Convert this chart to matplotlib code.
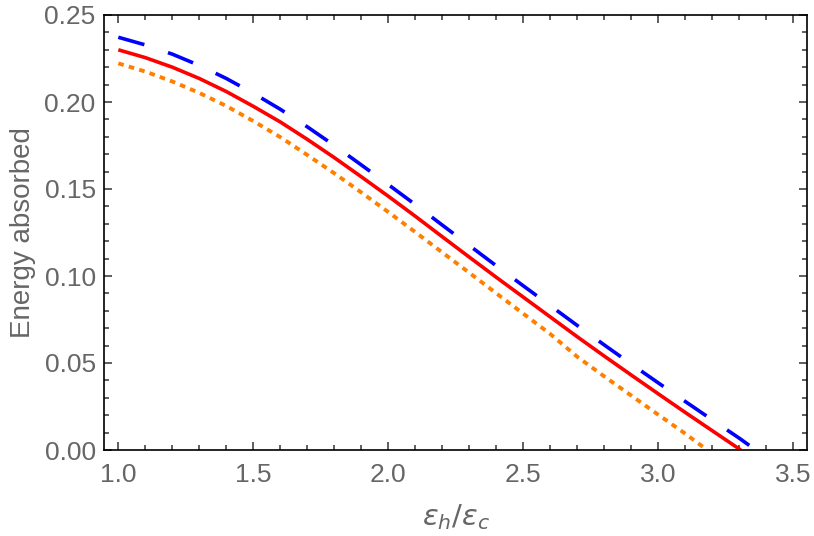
import matplotlib
matplotlib.use("Agg")
import matplotlib.pyplot as plt
from matplotlib.ticker import MultipleLocator, FormatStrFormatter

# Data
x_red = [1.0, 1.1, 1.2, 1.3, 1.4, 1.5, 1.6, 1.7, 1.8, 1.9, 2.0, 2.1, 2.2, 2.3,
         2.4, 2.5, 2.6, 2.7, 2.8, 2.9, 3.0, 3.1, 3.2, 3.3, 3.305]
y_red = [0.2300, 0.2255, 0.2200, 0.2135, 0.2060, 0.1975, 0.1885, 0.1785, 0.1680,
         0.1570, 0.1458, 0.1343, 0.1225, 0.1108, 0.0992, 0.0878, 0.0764, 0.0650,
         0.0539, 0.0430, 0.0322, 0.0215, 0.0110, 0.0005, 0.0]

x_blue = [1.0, 1.1, 1.2, 1.3, 1.4, 1.5, 1.6, 1.7, 1.8, 1.9, 2.0, 2.1, 2.2, 2.3,
          2.4, 2.5, 2.6, 2.7, 2.8, 2.9, 3.0, 3.1, 3.2, 3.3, 3.36]
y_blue = [0.2372, 0.2328, 0.2275, 0.2210, 0.2135, 0.2050, 0.1958, 0.1857, 0.1750,
          0.1638, 0.1525, 0.1410, 0.1292, 0.1175, 0.1058, 0.0943, 0.0829, 0.0715,
          0.0603, 0.0493, 0.0385, 0.0278, 0.0172, 0.0067, 0.0]

x_orange = [1.0, 1.1, 1.2, 1.3, 1.4, 1.5, 1.6, 1.7, 1.8, 1.9, 2.0, 2.1, 2.2, 2.3,
            2.4, 2.5, 2.6, 2.7, 2.8, 2.9, 3.0, 3.1, 3.18]
y_orange = [0.2222, 0.2175, 0.2118, 0.2052, 0.1977, 0.1890, 0.1798, 0.1695, 0.1590,
            0.1480, 0.1367, 0.1252, 0.1135, 0.1018, 0.0900, 0.0783, 0.0666, 0.0535,
            0.0422, 0.0312, 0.0202, 0.0093, 0.0]

x_label = r'$\epsilon_h/\epsilon_c$'
y_label = 'Energy absorbed'

plt.rcParams['font.family'] = ['Liberation Sans', 'DejaVu Sans']
plt.rcParams['mathtext.fontset'] = 'dejavusans'

fig = plt.figure(figsize=(8.14, 5.36), dpi=100)
ax = fig.add_axes([104/814, 1-450/536, (807-104)/814, (450-15)/536])

ax.plot(x_blue, y_blue, color='#0000FF', lw=2.6, dashes=(7.5, 6.9),
        dash_capstyle='butt', solid_capstyle='butt')
ax.plot(x_red, y_red, color='#FF0000', lw=2.6, solid_capstyle='butt')
ax.plot(x_orange, y_orange, color='#FF8000', lw=2.8, dashes=(1.45, 1.35),
        dash_capstyle='butt')

ax.set_xlim(0.947, 3.55)
ax.set_ylim(0.0, 0.25)

ax.xaxis.set_major_locator(MultipleLocator(0.5))
ax.xaxis.set_minor_locator(MultipleLocator(0.1))
ax.yaxis.set_major_locator(MultipleLocator(0.05))
ax.yaxis.set_minor_locator(MultipleLocator(0.01))
ax.xaxis.set_major_formatter(FormatStrFormatter('%.1f'))
ax.yaxis.set_major_formatter(FormatStrFormatter('%.2f'))

gray = '#666666'
for s in ax.spines.values():
    s.set_linewidth(1.2)
    s.set_color('black')

ax.tick_params(which='both', direction='in', top=True, right=True,
               color='#333333', width=1.1, labelcolor=gray, labelsize=19)
ax.tick_params(axis='x', which='major', length=6, pad=9)
ax.tick_params(axis='y', which='major', length=6, pad=6)
ax.tick_params(which='minor', length=3.8)

ax.set_xlabel(x_label, color=gray, fontsize=21, labelpad=11)
ax.set_ylabel(y_label, color=gray, fontsize=20, labelpad=6)

fig.savefig('out.png', dpi=100)
